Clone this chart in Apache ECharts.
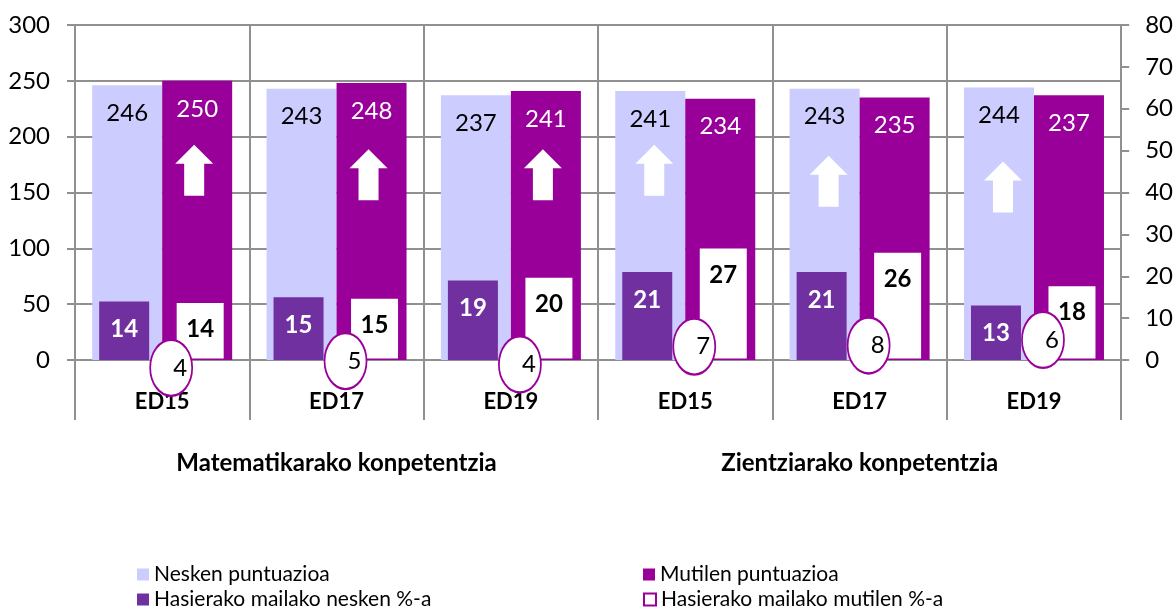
<html>
<head>
    <meta http-equiv="Content-Type" content="text/html; charset=utf-8">
    <script src="https://cdn.jsdelivr.net/npm/echarts@6/dist/echarts.min.js"></script>
    <style>
        * {
            margin: 0;
            padding: 0;
        }

        #main {
            width: 1176px;
            height: 610px;
            background: #ffffff;
        }
    </style>
</head>
<body>
<div id="main"></div>
<script type="text/javascript">
    // kategoriak eta taldeak
    let categories = ['ED15', 'ED17', 'ED19', 'ED15', 'ED17', 'ED19'];
    let groups = ['Matematikarako konpetentzia', 'Zientziarako konpetentzia'];
    // puntuazioak (ezkerreko ardatza)
    let neskenPuntuazioa = [246, 243, 237, 241, 243, 244];
    let mutilenPuntuazioa = [250, 248, 241, 234, 235, 237];
    // hasierako mailako %-ak (eskuineko ardatza)
    let neskenHasiera = [14, 15, 19, 21, 21, 13];
    let mutilenHasiera = [14, 15, 20, 27, 26, 18];
    // aldea (elipseak) eta haien altuera ezkerreko ardatzean
    let aldea = [4, 5, 4, 7, 8, 6];
    let aldeaMaila = [-7, -1, -4, 12, 13, 18];
    // geziak: altuera ezkerreko ardatzean
    let geziMaila = [170, 166, 166, 170, 160, 155];

    let gridColor = '#909090';
    let fontName = 'Lato';

    let ellipsePath = 'path://M0,50 A50,50 0 1,1 100,50 A50,50 0 1,1 0,50 Z';
    let arrowPath = 'path://M19,0 L38,19 L29,19 L29,51 L9,51 L9,19 L0,19 Z';

    let ellipseData = aldea.map(function (v, i) {
        return {value: [i, aldeaMaila[i]], diff: v};
    });
    let arrowData = geziMaila.map(function (v, i) {
        // gezia puntuazio altuenaren barran
        let boys = mutilenPuntuazioa[i] > neskenPuntuazioa[i];
        return {value: [i, v], symbolOffset: [boys ? 32 : -31, 0]};
    });

    let myChart = echarts.init(document.getElementById('main'));

    // legenda bakoitza elementu bakarrekoa, 2x2 sarean
    function legendItem(left, top, name) {
        return {
            left: left,
            top: top,
            padding: 0,
            icon: 'rect',
            itemWidth: 12,
            itemHeight: 12,
            selectedMode: false,
            textStyle: {fontSize: 21, lineHeight: 16, color: '#000', fontFamily: fontName},
            data: [name]
        };
    }

    let option = {
        animation: false,
        textStyle: {fontFamily: fontName},
        grid: {left: 75, right: 53, top: 25, bottom: 250},
        legend: [
            legendItem(137, 564, 'Nesken puntuazioa'),
            legendItem(643, 564, 'Mutilen puntuazioa'),
            legendItem(137, 589, 'Hasierako mailako nesken %-a'),
            legendItem(643, 589, 'Hasierako mailako mutilen %-a')
        ],
        xAxis: [
            {
                type: 'category',
                data: categories,
                position: 'bottom',
                axisLine: {show: true, lineStyle: {color: gridColor, width: 2}},
                axisTick: {show: true, length: 60, lineStyle: {color: gridColor, width: 2}},
                splitLine: {show: true, lineStyle: {color: gridColor, width: 2}},
                axisLabel: {margin: 31, fontSize: 22, fontWeight: 'bold', color: '#000', fontFamily: fontName}
            },
            {
                type: 'category',
                data: groups,
                position: 'bottom',
                offset: 60,
                axisLine: {show: false},
                axisTick: {show: true, length: 58, lineStyle: {color: gridColor, width: 2}},
                splitLine: {show: false},
                axisLabel: {margin: 31, fontSize: 24, fontWeight: 'bold', color: '#000', fontFamily: fontName}
            },
            {
                type: 'category',
                data: categories,
                show: false
            }
        ],
        yAxis: [
            {
                type: 'value',
                min: 0,
                max: 300,
                interval: 50,
                position: 'left',
                axisLine: {show: true, lineStyle: {color: gridColor, width: 2}},
                axisTick: {show: true, length: 8, lineStyle: {color: gridColor, width: 2}},
                splitLine: {show: true, lineStyle: {color: gridColor, width: 2}},
                axisLabel: {margin: 25, fontSize: 24, color: '#000', fontFamily: fontName}
            },
            {
                type: 'value',
                min: 0,
                max: 80,
                interval: 10,
                position: 'right',
                axisLine: {show: true, lineStyle: {color: gridColor, width: 2}},
                axisTick: {show: true, length: 8, lineStyle: {color: gridColor, width: 2}},
                splitLine: {show: false},
                axisLabel: {margin: 24, fontSize: 24, color: '#000', fontFamily: fontName}
            }
        ],
        series: [
            {
                name: 'Nesken puntuazioa',
                type: 'bar',
                xAxisIndex: 0,
                yAxisIndex: 0,
                barWidth: 70,
                barGap: '0%',
                itemStyle: {color: '#ccccff'},
                label: {show: true, position: 'insideTop', distance: 16, fontSize: 24, color: '#000', fontFamily: fontName},
                emphasis: {disabled: true},
                data: neskenPuntuazioa
            },
            {
                name: 'Mutilen puntuazioa',
                type: 'bar',
                xAxisIndex: 0,
                yAxisIndex: 0,
                barWidth: 70,
                barGap: '0%',
                itemStyle: {color: '#990099'},
                label: {show: true, position: 'insideTop', distance: 16, fontSize: 24, color: '#fff', fontFamily: fontName},
                emphasis: {disabled: true},
                data: mutilenPuntuazioa
            },
            {
                name: 'Hasierako mailako nesken %-a',
                type: 'bar',
                xAxisIndex: 2,
                yAxisIndex: 1,
                barWidth: 50,
                barGap: '52%',
                itemStyle: {color: '#7030a0'},
                label: {show: true, position: 'insideTop', distance: 16, fontSize: 24, fontWeight: 'bold', color: '#fff', fontFamily: fontName},
                emphasis: {disabled: true},
                data: neskenHasiera
            },
            {
                name: 'Hasierako mailako mutilen %-a',
                type: 'bar',
                xAxisIndex: 2,
                yAxisIndex: 1,
                barWidth: 50,
                barGap: '52%',
                itemStyle: {color: '#ffffff', borderColor: '#990099', borderWidth: 1.5},
                label: {show: true, position: 'insideTop', distance: 16, fontSize: 24, fontWeight: 'bold', color: '#000', fontFamily: fontName},
                emphasis: {disabled: true},
                data: mutilenHasiera
            },
            {
                name: 'aldea',
                type: 'scatter',
                xAxisIndex: 0,
                yAxisIndex: 0,
                clip: false,
                symbol: ellipsePath,
                symbolSize: [42, 56],
                symbolOffset: [9, 0],
                itemStyle: {color: '#ffffff', borderColor: '#990099', borderWidth: 2, opacity: 1},
                label: {
                    show: true,
                    position: 'inside',
                    offset: [9, 0],
                    fontSize: 24,
                    color: '#000',
                    fontFamily: fontName,
                    formatter: function (p) {
                        return p.data.diff;
                    }
                },
                emphasis: {disabled: true},
                z: 5,
                data: ellipseData
            },
            {
                name: 'geziak',
                type: 'scatter',
                xAxisIndex: 0,
                yAxisIndex: 0,
                symbol: arrowPath,
                symbolSize: [38, 51],
                itemStyle: {color: '#ffffff', opacity: 1},
                emphasis: {disabled: true},
                z: 5,
                data: arrowData
            }
        ]
    };

    myChart.setOption(option);
</script>
</body>
</html>
